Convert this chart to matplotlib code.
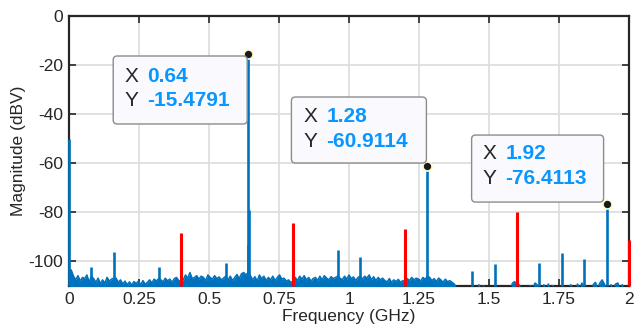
import numpy as np
import matplotlib
matplotlib.use('Agg')
import matplotlib.pyplot as plt
from matplotlib.patches import FancyBboxPatch
from matplotlib.transforms import IdentityTransform

plt.rcParams['font.family'] = ['Liberation Sans', 'DejaVu Sans']

# ---------------- data ----------------
freq_step = 0.008  # GHz between noise-floor bins
noise_db = [
    -103.0, -103.5, -106.0, -107.5, -105.8, -108.0, -106.5, -107.0, -105.5, -108.5,
    -106.0, -107.0, -108.5, -106.8, -109.0, -107.5, -108.8, -106.5, -108.0, -107.2,
    -106.8, -106.8, -108.5, -107.5, -109.2, -108.0, -109.5, -108.3, -109.6, -108.2,
    -109.0, -108.0, -109.5, -107.8, -109.3, -108.5, -107.5, -108.8, -107.2, -108.0,
    -107.0, -107.5, -108.3, -106.8, -107.9, -107.2, -108.5, -107.0, -106.5, -107.8,
    -108.0, -107.5, -105.5, -106.8, -104.5, -107.0, -106.5, -105.8, -107.2, -106.0,
    -106.5, -107.8, -105.5, -106.5, -107.2, -105.8, -107.0, -106.3, -107.5, -106.8,
    -106.0, -107.5, -106.0, -107.8, -106.5, -105.3, -107.0, -105.0, -104.5, -105.5,
    -104.5, -105.8, -107.5, -106.2, -108.0, -105.5, -107.0, -106.0, -107.8, -106.5,
    -107.5, -106.0, -107.8, -106.5, -105.5, -107.2, -106.8, -108.0, -107.5, -108.5,
    -108.0, -106.5, -107.8, -106.0, -107.2, -105.8, -107.5, -106.5, -108.0, -107.0,
    -106.5, -107.8, -106.0, -107.5, -105.8, -106.8, -107.5, -106.2, -107.0, -106.5,
    -106.0, -106.8, -107.5, -106.0, -107.2, -105.5, -107.0, -106.3, -107.8, -106.5,
    -106.0, -107.2, -106.0, -106.8, -105.5, -107.5, -106.2, -107.8, -106.5, -107.5,
    -106.8, -107.8, -108.3, -107.0, -108.5, -107.5, -108.2, -107.3, -108.5, -107.8,
    -108.3, -107.0, -107.8, -106.5, -107.5, -106.8, -107.2, -108.0, -106.5, -107.3,
    -106.0, -106.5, -107.8, -107.0, -108.2, -106.8, -107.5, -108.5, -107.2, -108.3,
    -107.8, -108.5, -109.2, -110.5, -111.0, -111.5, -110.8, -111.2, -111.0, -111.5,
    -111.0, -111.0, -111.5, -109.5, -111.0, -109.8, -111.5, -111.0, -111.5, -111.2,
    -111.0, -111.5, -111.0, -111.2, -111.5, -110.8, -111.0, -111.5, -108.8, -108.2,
    -111.0, -109.5, -111.0, -111.5, -111.0, -111.2, -109.8, -111.5, -108.8, -109.5,
    -111.0, -111.0, -109.5, -111.0, -109.2, -111.5, -109.8, -111.0, -111.5, -111.2,
    -111.0, -111.5, -111.0, -111.2, -109.5, -111.0, -111.5, -109.2, -111.0, -108.8,
    -111.0, -111.0, -111.5, -111.2, -109.5, -108.5, -111.0, -108.8, -107.5, -109.2,
    -111.0, -111.0, -109.5, -111.0, -109.2, -108.8, -111.0, -109.5, -111.5, -111.0,
    -111.0,
]
spur_freqs = [0.0, 0.08, 0.16, 0.32, 0.56, 0.6385, 0.6415, 0.64, 0.96, 1.04, 1.28,
              1.44, 1.52, 1.68, 1.76, 1.84, 1.92]
spur_db = [-50.2, -102.3, -96.0, -102.3, -100.6, -93.2, -79.0, -15.4791, -95.5, -98.0,
           -60.9114, -103.8, -101.1, -100.6, -96.6, -98.8, -76.4113]

harm_freqs = [0.4, 0.8, 1.2, 1.6, 2.0]
harm_db = [-88.4, -84.4, -86.8, -79.9, -91.2]

tip_freqs = [0.64, 1.28, 1.92]
tip_db = [-15.4791, -60.9114, -76.4113]

x_ticks = [0, 0.25, 0.5, 0.75, 1, 1.25, 1.5, 1.75, 2]
x_tick_labels = ['0', '0.25', '0.5', '0.75', '1', '1.25', '1.5', '1.75', '2']
y_ticks = [-100, -80, -60, -40, -20, 0]
y_tick_labels = ['-100', '-80', '-60', '-40', '-20', '0']

# ---------------- figure ----------------
DPI = 100
fig = plt.figure(figsize=(6.34, 3.31), dpi=DPI)
ax = fig.add_axes([69 / 634, 45 / 331, 560 / 634, 270 / 331])

axcol = '#262626'
blue = '#0072BD'
freqs = np.arange(len(noise_db)) * freq_step
noise = np.array(noise_db)
ax.fill_between(freqs, noise, -115, color=blue, lw=0, zorder=3)
ax.plot(freqs, noise, color=blue, lw=1.1, zorder=3)
ax.vlines(spur_freqs, -110, spur_db, color=blue, lw=1.9, zorder=3, clip_on=False)
ax.vlines(harm_freqs, -110, harm_db, color='#FF0000', lw=2.2, zorder=4, clip_on=False)

ax.set_xlim(0, 2)
ax.set_ylim(-110, 0)
ax.set_xticks(x_ticks)
ax.set_xticklabels(x_tick_labels)
ax.set_yticks(y_ticks)
ax.set_yticklabels(y_tick_labels)
ax.grid(True, color='#dedede', lw=1.3)
ax.set_axisbelow(True)
ax.tick_params(direction='in', length=5, width=1.2, top=True, right=True,
               labelsize=12.5, colors=axcol, pad=4)
for sp in ax.spines.values():
    sp.set_linewidth(1.6)
    sp.set_color(axcol)
ax.set_xlabel('Frequency (GHz)', fontsize=12.5, color=axcol, labelpad=2)
ax.set_ylabel('Magnitude (dBV)', fontsize=12.5, color=axcol, labelpad=2)

# data tip markers
ax.plot(tip_freqs, tip_db, 'o', ms=6.5, mfc='#1a1a1a', mec='#fffbd0', mew=1.2,
        zorder=6, clip_on=False)

# data tip boxes (pixel offsets from the tip point)
tip_boxes = [  # (dx_left, dy_bottom, width, height, text_dx, line1_dy, line2_dy)
    (-135, -70, 134, 68, -124, -23, -47),
    (-136, 2.5, 135, 66, -124, 49.5, 24.5),
    (-135, 1.5, 132, 67, -124, 50, 25),
]
idt = IdentityTransform()
fig.canvas.draw()
for fx, fy, bx in zip(tip_freqs, tip_db, tip_boxes):
    px, py = ax.transData.transform((fx, fy))
    dxl, dyb, w, h, tdx, l1, l2 = bx
    patch = FancyBboxPatch((px + dxl + 3, py + dyb + 3), w - 6, h - 6,
                           boxstyle='round,pad=3,rounding_size=4',
                           transform=idt, facecolor='#f9f9fe', edgecolor='#8c8c8c',
                           lw=1.0, zorder=7, clip_on=False)
    fig.add_artist(patch)
    for dy, lab, val in [(l1, 'X', f'{fx:g}'), (l2, 'Y', f'{fy:.4f}')]:
        fig.text(px + tdx, py + dy, lab, transform=idt, fontsize=15, color=axcol,
                 va='center', ha='left', zorder=8)
        fig.text(px + tdx + 23, py + dy, val, transform=idt, fontsize=15,
                 color='#0A96FF', fontweight='bold', va='center', ha='left', zorder=8)

fig.savefig('out.png', dpi=DPI)
